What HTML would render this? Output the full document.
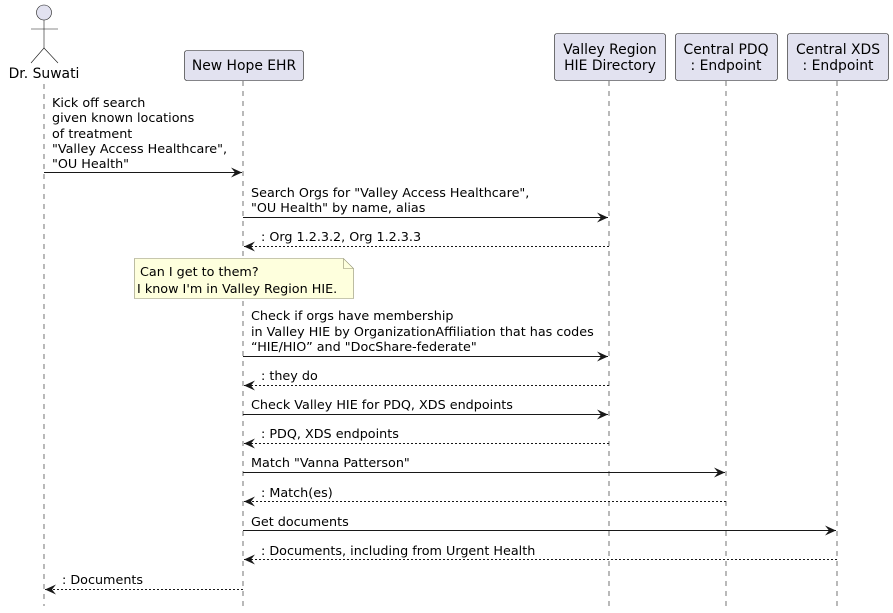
<!DOCTYPE html>
<html><head><meta charset="utf-8"><style>
html,body{margin:0;padding:0;background:#fff;}
svg{display:block;font-family:"DejaVu Sans","Liberation Sans",sans-serif;font-size:12.75px;}
.p{font-size:13.9px;}
</style></head><body>
<svg width="893" height="613" viewBox="0 0 893 613" xmlns="http://www.w3.org/2000/svg">
<defs>
<marker id="a" markerWidth="12" markerHeight="10" refX="11" refY="5" orient="auto" markerUnits="userSpaceOnUse">
<path d="M0,0 L11,5 L0,10 L4,5 Z" fill="#181818"/></marker>
</defs>
<g stroke="#181818" stroke-width="0.6" stroke-dasharray="5,5" fill="none">
<line x1="44" y1="84" x2="44" y2="606"/>
<line x1="243" y1="81" x2="243" y2="606"/>
<line x1="609" y1="81" x2="609" y2="606"/>
<line x1="726" y1="81" x2="726" y2="606"/>
<line x1="837" y1="81" x2="837" y2="606"/>
</g>
<g fill="#E2E2F0" stroke="#181818" stroke-width="0.6">
<circle cx="44" cy="12.5" r="7.5"/>
</g>
<g stroke="#181818" stroke-width="0.6" fill="none">
<line x1="44" y1="20" x2="44" y2="48"/>
<line x1="31" y1="29" x2="58" y2="29"/>
<path d="M31,63 L44,48 L58,63"/>
</g>
<text class="p" x="44" y="78" text-anchor="middle">Dr. Suwati</text>
<g fill="#E2E2F0" stroke="#181818" stroke-width="0.6">
<rect x="184.5" y="50.5" width="119" height="30" rx="2.5"/>
<rect x="554.5" y="33.5" width="111" height="47" rx="2.5"/>
<rect x="675.5" y="33.5" width="102" height="47" rx="2.5"/>
<rect x="787.5" y="33.5" width="101" height="47" rx="2.5"/>
</g>
<g text-anchor="middle" class="p">
<text x="244" y="70">New Hope EHR</text>
<text x="610" y="54">Valley Region</text><text x="610" y="70">HIE Directory</text>
<text x="726" y="54">Central PDQ</text><text x="726" y="70">: Endpoint</text>
<text x="838" y="54">Central XDS</text><text x="838" y="70">: Endpoint</text>
</g>
<path d="M134.5,258.5 H343.5 L353.5,268.5 V298.5 H134.5 Z" fill="#FEFFDD" stroke="#8f8f70" stroke-width="0.6"/>
<path d="M343.5,258.5 V268.5 H353.5" fill="none" stroke="#8f8f70" stroke-width="0.6"/>
<text x="140" y="276">Can I get to them?</text>
<text x="137" y="293">I know I'm in Valley Region HIE.</text>
<g stroke="#181818" stroke-width="1" fill="none">
<line x1="44" y1="172.5" x2="242" y2="172.5" marker-end="url(#a)"/>
<line x1="243" y1="217.5" x2="608" y2="217.5" marker-end="url(#a)"/>
<line x1="243" y1="356.5" x2="608" y2="356.5" marker-end="url(#a)"/>
<line x1="243" y1="414.5" x2="608" y2="414.5" marker-end="url(#a)"/>
<line x1="243" y1="472.5" x2="725" y2="472.5" marker-end="url(#a)"/>
<line x1="243" y1="530.5" x2="836" y2="530.5" marker-end="url(#a)"/>
<g stroke-dasharray="2,2">
<line x1="609" y1="246.5" x2="244" y2="246.5" marker-end="url(#a)"/>
<line x1="609" y1="385.5" x2="244" y2="385.5" marker-end="url(#a)"/>
<line x1="609" y1="443.5" x2="244" y2="443.5" marker-end="url(#a)"/>
<line x1="726" y1="501.5" x2="244" y2="501.5" marker-end="url(#a)"/>
<line x1="837" y1="559.5" x2="244" y2="559.5" marker-end="url(#a)"/>
<line x1="243" y1="589.5" x2="45" y2="589.5" marker-end="url(#a)"/>
</g>
</g>
<g>
<text x="52" y="107">Kick off search</text>
<text x="52" y="122">given known locations</text>
<text x="52" y="138">of treatment</text>
<text x="52" y="153">"Valley Access Healthcare",</text>
<text x="52" y="168">"OU Health"</text>
<text x="251" y="197">Search Orgs for "Valley Access Healthcare",</text>
<text x="251" y="212">"OU Health" by name, alias</text>
<text x="261" y="241">: Org 1.2.3.2, Org 1.2.3.3</text>
<text x="251" y="320">Check if orgs have membership</text>
<text x="251" y="336">in Valley HIE by OrganizationAffiliation that has codes</text>
<text x="251" y="351">“HIE/HIO” and "DocShare-federate"</text>
<text x="261" y="380">: they do</text>
<text x="251" y="409">Check Valley HIE for PDQ, XDS endpoints</text>
<text x="261" y="438">: PDQ, XDS endpoints</text>
<text x="251" y="467">Match "Vanna Patterson"</text>
<text x="261" y="497">: Match(es)</text>
<text x="251" y="526">Get documents</text>
<text x="261" y="555">: Documents, including from Urgent Health</text>
<text x="62" y="584">: Documents</text>
</g>
</svg>
</body></html>
